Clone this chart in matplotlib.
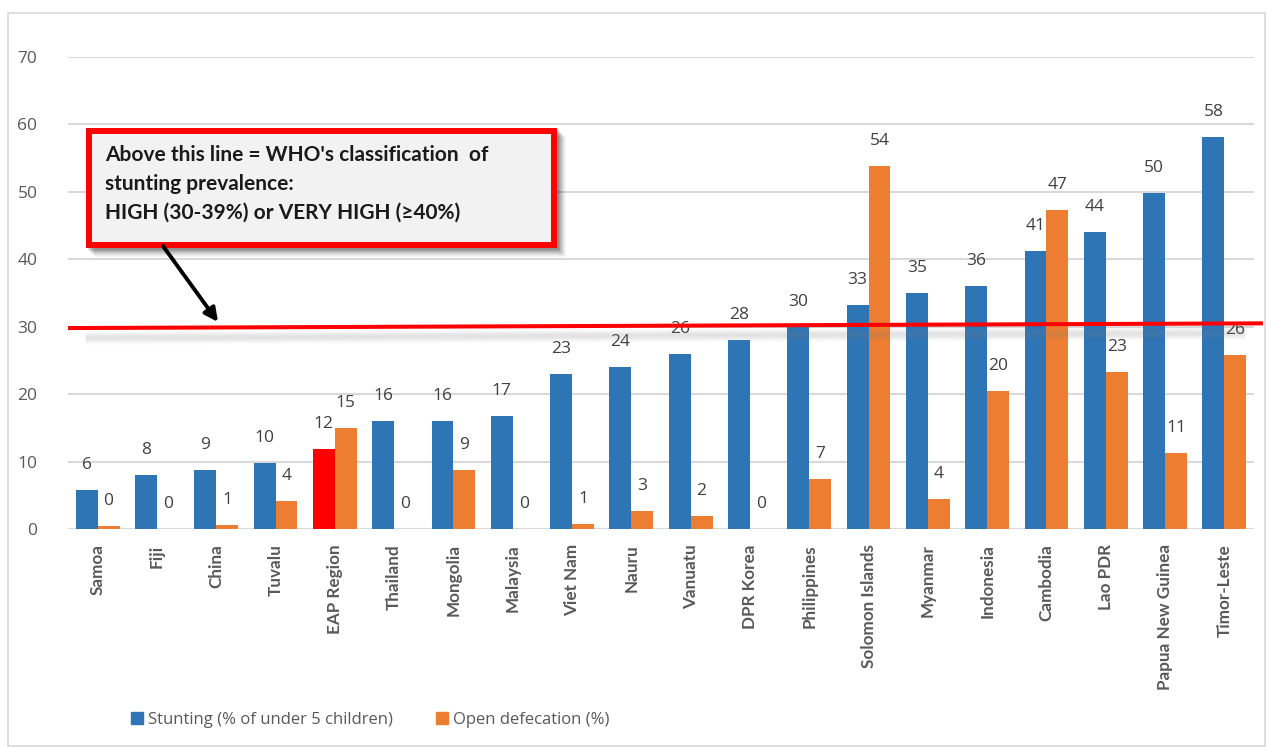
import numpy as np
import matplotlib
matplotlib.use("Agg")
import matplotlib.pyplot as plt
from matplotlib.patches import Rectangle, Patch

plt.rcParams['font.family'] = ['Open Sans', 'DejaVu Sans']

# data
countries = ["Samoa", "Fiji", "China", "Tuvalu", "EAP Region", "Thailand", "Mongolia",
             "Malaysia", "Viet Nam", "Nauru", "Vanuatu", "DPR Korea", "Philippines",
             "Solomon Islands", "Myanmar", "Indonesia", "Cambodia", "Lao PDR",
             "Papua New Guinea", "Timor-Leste"]
stunting = [5.8, 8.0, 8.7, 9.8, 11.9, 16.0, 16.0, 16.8, 23.0, 24.0, 25.9, 28.0, 29.9,
            33.2, 35.0, 36.0, 41.2, 44.1, 49.9, 58.1]
open_def = [0.4, 0.0, 0.6, 4.1, 15.0, 0.0, 8.8, 0.0, 0.8, 2.6, 1.9, 0.0, 7.4,
            53.8, 4.4, 20.4, 47.3, 23.3, 11.3, 25.8]
threshold = [29.8, 30.5]  # the hand-drawn red line, slightly tilted

BLUE = "#2E75B6"
ORANGE = "#ED7D31"
RED = "#FF0000"
W, H = 1268, 747

fig = plt.figure(figsize=(W / 100, H / 100), dpi=100)
ax = fig.add_axes([68 / W, 1 - 529 / H, (1254 - 68) / W, (529 - 57) / H])

x = np.arange(len(countries))
bw = 0.37
blue_cols = [RED if c == "EAP Region" else BLUE for c in countries]
ax.bar(x - bw / 2, stunting, bw, color=blue_cols, zorder=3)
ax.bar(x + bw / 2, open_def, bw, color=ORANGE, zorder=3)

for xi, s, o in zip(x, stunting, open_def):
    for xx, v in ((xi - bw / 2, s), (xi + bw / 2, o)):
        ax.annotate(f"{round(v)}", (xx, v), xytext=(0, 18), textcoords="offset points",
                    ha="center", va="center", fontsize=12.5, color="#404040", zorder=5)

ax.set_xlim(-0.5, len(countries) - 0.5)
ax.set_ylim(0, 70)
ax.set_yticks(range(0, 71, 10))
ax.yaxis.grid(True, color="#D9D9D9", lw=1.5, zorder=0)
ax.set_axisbelow(True)
for sp in ax.spines.values():
    sp.set_visible(False)
ax.tick_params(length=0)
ax.tick_params(axis="y", labelsize=12.5, labelcolor="#595959", pad=22)
ax.set_xticks(x)
ax.set_xticklabels(countries, rotation=90, fontsize=12.3, fontweight="bold",
                   color="#595959", family=["Lato", "DejaVu Sans"])
ax.tick_params(axis="x", pad=11)

# red threshold line with its soft shadow
xl = [-0.5, 19.65]
for k, a in zip(np.linspace(0.9, 2.1, 7), [0.03, 0.05, 0.06, 0.06, 0.05, 0.04, 0.02]):
    ax.plot([xl[0] + 0.3, xl[1] - 0.3], [threshold[0] - k, threshold[1] - k],
            color="gray", lw=4, alpha=a, solid_capstyle="butt", clip_on=False, zorder=6)
ax.plot(xl, threshold, color=RED, lw=2.9, solid_capstyle="butt", clip_on=False, zorder=7)

# annotation box
def fbox(x0, y0, x1, y1, **kw):
    return Rectangle((x0 / W, 1 - y1 / H), (x1 - x0) / W, (y1 - y0) / H,
                     transform=fig.transFigure, **kw)

for d, a in zip(range(2, 10), [0.10, 0.09, 0.08, 0.07, 0.06, 0.05, 0.04, 0.03]):
    fig.add_artist(fbox(86 + d, 128 + d, 557 + d, 248 + d, facecolor="black",
                        edgecolor="none", alpha=a, zorder=8))
fig.add_artist(fbox(89, 131, 554, 245, facecolor="#F2F2F2", edgecolor=RED,
                    lw=4.3, zorder=9))
box_lines = ["Above this line = WHO's classification  of",
             "stunting prevalence:",
             "HIGH (30-39%) or VERY HIGH (\u226540%)"]
for i, t in enumerate(box_lines):
    fig.text(105 / W, 1 - (155 + 29 * i) / H, t, fontsize=15, fontweight="bold",
             color="#1A1A1A", va="center", ha="left", zorder=10,
             family=["Lato", "DejaVu Sans"])

fig.add_artist(plt.Annotation("", xy=(218, H - 322), xytext=(163, H - 246),
                              xycoords="figure pixels", textcoords="figure pixels",
                              arrowprops=dict(arrowstyle="-|>,head_length=0.8,head_width=0.4",
                                              color="black", lw=2.8, shrinkA=0, shrinkB=0),
                              zorder=10))

handles = [Patch(color=BLUE, label="Stunting (% of under 5 children)"),
           Patch(color=ORANGE, label="Open defecation (%)")]
fig.legend(handles=handles, loc="center", bbox_to_anchor=(370 / W, 1 - 720 / H), ncol=2,
           frameon=False, fontsize=12, labelcolor="#595959", handlelength=0.7,
           handleheight=0.7, handletextpad=0.3, columnspacing=2.6)

# outer chart frame
fig.add_artist(Rectangle((8 / W, 0.002), (1265 - 8) / W, 1 - 13 / H - 0.002,
                         transform=fig.transFigure, fill=False, edgecolor="#D9D9D9", lw=1.2))

fig.savefig("out.png", dpi=100)
